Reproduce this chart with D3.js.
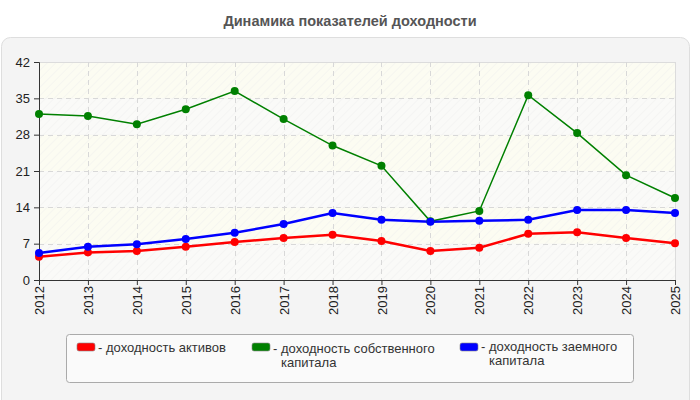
<!DOCTYPE html>
<html>
<head>
<meta charset="utf-8">
<script src="https://cdn.jsdelivr.net/npm/d3@7"></script>
<style>
  body { margin: 0; background: #fff; font-family: "Liberation Sans", Arial, sans-serif; }
</style>
</head>
<body>
<div id="chart"></div>
<script>
const years = ['2012','2013','2014','2015','2016','2017','2018','2019','2020','2021','2022','2023','2024','2025'];
const assets = [4.5, 5.3, 5.6, 6.4, 7.3, 8.1, 8.7, 7.5, 5.6, 6.2, 8.9, 9.2, 8.1, 7.1];
const equity = [32.0, 31.6, 30.0, 32.9, 36.4, 31.0, 25.9, 22.0, 11.3, 13.3, 35.6, 28.3, 20.2, 15.8];
const borrowed = [5.2, 6.4, 6.9, 7.9, 9.1, 10.8, 12.9, 11.6, 11.2, 11.4, 11.6, 13.5, 13.5, 12.9];
const yTicks = [0, 7, 14, 21, 28, 35, 42];
const seriesNames = ['доходность активов', 'доходность собственного капитала', 'доходность заемного капитала'];
const seriesColors = ['#ff0000', '#008000', '#0000ff'];

const width = 700, height = 400;
const margin = { top: 62, right: 25, bottom: 120, left: 39 };
const W = width - margin.left - margin.right;
const H = height - margin.top - margin.bottom;

const svg = d3.select('#chart').append('svg').attr('width', width).attr('height', height);

const defs = svg.append('defs');
const pat = defs.append('pattern').attr('id', 'hatch').attr('patternUnits', 'userSpaceOnUse')
  .attr('width', 6).attr('height', 6).attr('patternTransform', 'rotate(45)');
pat.append('line').attr('x1', 0).attr('y1', 0).attr('x2', 0).attr('y2', 6)
  .attr('stroke', '#ececec').attr('stroke-width', 1.2);

// Title
svg.append('text').attr('x', 350).attr('y', 26).attr('text-anchor', 'middle')
  .attr('font-size', '14.5px').attr('font-weight', '700').attr('fill', '#555')
  .text('Динамика показателей доходности');

// Outer panel
svg.append('rect').attr('x', 1.5).attr('y', 37.5).attr('width', 688).attr('height', 372)
  .attr('rx', 9).attr('fill', '#f4f4f4').attr('stroke', '#dedede');

const x = d3.scalePoint().domain(years).range([0, W]);
const y = d3.scaleLinear().domain([0, 42]).range([H, 0]);

const g = svg.append('g').attr('transform', `translate(${margin.left},${margin.top})`);

// Plot background bands
g.selectAll('.band').data(yTicks.slice(0, -1)).enter().append('rect')
  .attr('x', 0).attr('width', W)
  .attr('y', d => y(d + 7)).attr('height', d => y(d) - y(d + 7))
  .attr('fill', (d, i) => i % 2 ? '#fcfcf2' : '#fafaf8');
g.append('rect').attr('width', W).attr('height', H).attr('fill', 'url(#hatch)').attr('opacity', 0.7);
g.append('rect').attr('x', 0.5).attr('y', 0.5).attr('width', W).attr('height', H)
  .attr('fill', 'none').attr('stroke', '#dcdcdc');

// Grid
g.append('g').selectAll('line').data(yTicks.slice(1, -1)).enter().append('line')
  .attr('x1', 0).attr('x2', W).attr('y1', d => Math.round(y(d)) + 0.5).attr('y2', d => Math.round(y(d)) + 0.5)
  .attr('stroke', '#d8d8d8').attr('stroke-dasharray', '5,4');
g.append('g').selectAll('line').data(years.slice(1, -1)).enter().append('line')
  .attr('y1', 0).attr('y2', H).attr('x1', d => Math.round(x(d)) + 0.5).attr('x2', d => Math.round(x(d)) + 0.5)
  .attr('stroke', '#d8d8d8').attr('stroke-dasharray', '5,4');

// Axes
const yAxis = g.append('g').call(d3.axisLeft(y).tickValues(yTicks).tickSize(5).tickPadding(4));
yAxis.select('.domain').attr('stroke', '#333');
yAxis.selectAll('.tick line').attr('stroke', '#333');
yAxis.selectAll('text').attr('font-size', '13px').attr('fill', '#222')
  .attr('font-family', '"Liberation Sans", Arial, sans-serif');

const xAxis = g.append('g').attr('transform', `translate(0,${H})`)
  .call(d3.axisBottom(x).tickSize(5).tickSizeOuter(0).tickPadding(4));
xAxis.select('.domain').attr('stroke', '#333');
xAxis.selectAll('.tick line').attr('stroke', '#333');
xAxis.selectAll('text').attr('font-size', '13px').attr('fill', '#222')
  .attr('font-family', '"Liberation Sans", Arial, sans-serif')
  .attr('transform', 'rotate(-90)').attr('text-anchor', 'end')
  .attr('x', -6).attr('y', 0).attr('dy', '0.35em');

// Lines
const data = [assets, equity, borrowed];
const widths = [2.5, 1.5, 2.5];
const line = d3.line().x((d, i) => x(years[i])).y(d => y(d));
data.forEach((vals, k) => {
  g.append('path').datum(vals).attr('d', line).attr('fill', 'none')
    .attr('stroke', seriesColors[k]).attr('stroke-width', widths[k]);
});
data.forEach((vals, k) => {
  g.append('g').selectAll('circle').data(vals).enter().append('circle')
    .attr('cx', (d, i) => x(years[i])).attr('cy', d => y(d)).attr('r', 4)
    .attr('fill', seriesColors[k]);
});

// Legend
const leg = svg.append('g');
leg.append('rect').attr('x', 66.5).attr('y', 334.5).attr('width', 567).attr('height', 48)
  .attr('rx', 3).attr('fill', '#fafafa').attr('stroke', '#aaa');
const legX = [77, 252, 460];
const legY = [352, 353, 351];
seriesNames.forEach((name, i) => {
  leg.append('rect').attr('x', legX[i]).attr('y', 343).attr('width', 18).attr('height', 8)
    .attr('rx', 2).attr('fill', seriesColors[i]).attr('stroke', '#888').attr('stroke-width', 0.6);
  const words = name.split(' ');
  const t = leg.append('text').attr('font-size', '13px').attr('fill', '#333');
  t.append('tspan').attr('x', legX[i] + 21).attr('y', legY[i]).text('-');
  t.append('tspan').attr('x', legX[i] + 29).attr('y', legY[i]).text(words.slice(0, 2).join(' '));
  if (words.length > 2) {
    t.append('tspan').attr('x', legX[i] + 29).attr('y', legY[i] + 14).text(words.slice(2).join(' '));
  }
});
</script>
</body>
</html>
